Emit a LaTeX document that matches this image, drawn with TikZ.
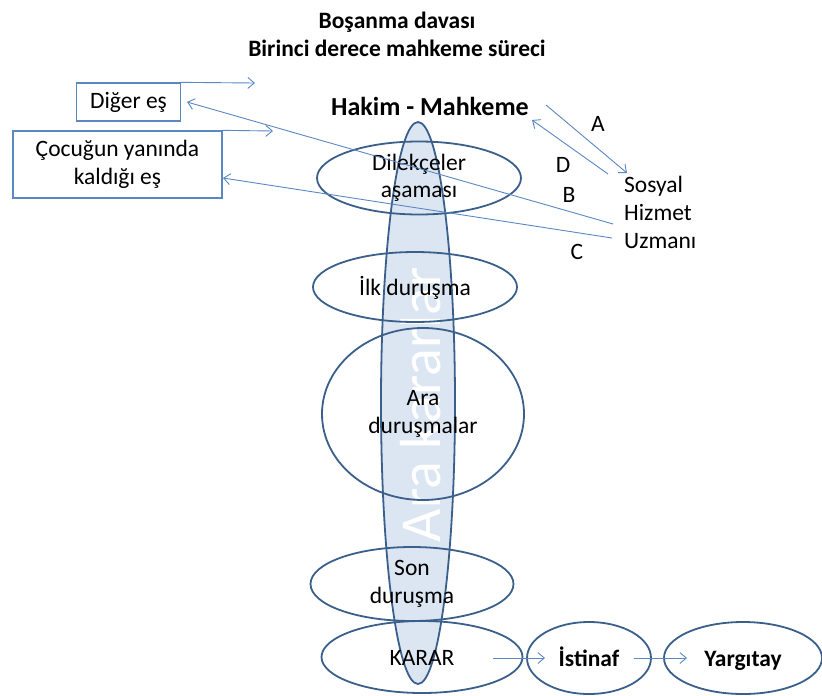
\documentclass[tikz,border=0pt]{standalone}
\usepackage{fontspec}
\setmainfont{Carlito}
\usetikzlibrary{shapes.geometric,arrows.meta}
\definecolor{edgeblue}{HTML}{3A5F8B}
\definecolor{fillblue}{HTML}{DCE6F2}
\definecolor{lineblue}{HTML}{5B87C2}
\tikzset{
  stage/.style={ellipse, draw=edgeblue, line width=1.8pt, inner sep=0pt, align=center,
    font=\fontsize{23.5}{27.5}\selectfont},
  oneline/.style={text height=21pt, text depth=5pt},
  boxnode/.style={draw=lineblue, line width=1.3pt, inner sep=0pt, align=center,
    font=\fontsize{23.5}{28}\selectfont},
  conn/.style={draw=lineblue, line width=0.9pt, -{Straight Barb[length=6.5pt,width=11pt,line width=0.9pt]}},
  plain/.style={inner sep=0pt, font=\fontsize{23.5}{28}\selectfont},
}
\begin{document}
\begin{tikzpicture}[x=1pt,y=-1pt]
\useasboundingbox (0,0) rectangle (822,696);

% title
\node[plain, align=center, font=\bfseries\fontsize{23.5}{28}\selectfont] (title) at (397,34) {Boşanma davası\\Birinci derece mahkeme süreci};

% tall ellipse
\node[ellipse, draw=edgeblue, fill=fillblue, line width=1.8pt, minimum width=74pt, minimum height=562pt, inner sep=0pt] (ara) at (418,403) {};
\node[inner sep=0pt, rotate=90, text=white, font=\fontsize{58}{64}\selectfont] (aratext) at (421,405) {Ara kararlar};

% stages
\node[stage, minimum width=204pt, minimum height=73pt] (dilek) at (419,178) {Dilekçeler\\aşaması};
\node[stage, oneline, minimum width=204pt, minimum height=70pt] (ilk) at (415,287) {İlk duruşma};
\node[stage, minimum width=202pt, minimum height=172pt] (arad) at (423,414) {Ara\\duruşmalar};
\node[stage, minimum width=203pt, minimum height=74pt] (son) at (412,584) {Son\\duruşma};
\node[stage, oneline, minimum width=201pt, minimum height=72pt] (karar) at (422,657) {KARAR};
\node[stage, oneline, minimum width=124pt, minimum height=72pt, font=\bfseries\fontsize{23.5}{27.5}\selectfont] (istinaf) at (589,658) {İstinaf};
\node[stage, oneline, minimum width=158pt, minimum height=72pt, font=\bfseries\fontsize{23.5}{27.5}\selectfont] (yargitay) at (743,658) {Yargıtay};

% hakim
\node[plain, font=\bfseries\fontsize{26}{30}\selectfont] (hakim) at (430,106) {Hakim - Mahkeme};

% boxes
\node[boxnode, minimum width=104pt, minimum height=38pt] (diger) at (128.5,102) {Diğer eş};
\node[boxnode, minimum width=209pt, minimum height=67pt] (cocuk) at (117.5,164.5) {Çocuğun yanında\\kaldığı eş};

% sosyal hizmet uzmani
\node[plain, align=left, anchor=west] (shu) at (624,212) {Sosyal\\Hizmet\\Uzmanı};

% labels
\node[plain] (la) at (598,124) {A};
\node[plain] (ld) at (563,165) {D};
\node[plain] (lb) at (569,195) {B};
\node[plain] (lc) at (577,252) {C};

% connector end points
\coordinate (dgo) at (255,83);
\coordinate (cko) at (273,131);
\coordinate (bs) at (613,224);
\coordinate (bt) at (187,102);
\coordinate (cs) at (612,238);
\coordinate (ct) at (223,178);
\coordinate (as) at (546,105);
\coordinate (at) at (627,173);
\coordinate (ds) at (608,174);
\coordinate (dt) at (532,120);
\coordinate (k1) at (493,658);
\coordinate (k2) at (545,658);
\coordinate (i1) at (634,658);
\coordinate (i2) at (687,658);

\draw[conn] (diger.north east) -- (dgo);
\draw[conn] (cocuk.north east) -- (cko);
\draw[conn] (bs) -- (bt);
\draw[conn] (cs) -- (ct);
\draw[conn] (as) -- (at);
\draw[conn] (ds) -- (dt);
\draw[conn] (k1) -- (k2);
\draw[conn] (i1) -- (i2);
\end{tikzpicture}
\end{document}
